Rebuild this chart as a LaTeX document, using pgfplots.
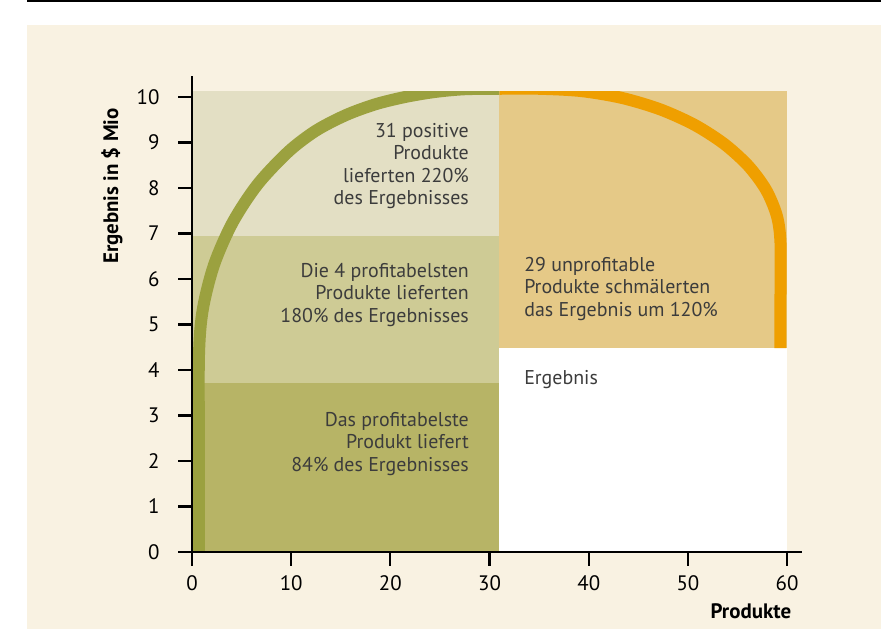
\documentclass[border=0pt]{standalone}
\usepackage{pgfplots}
\pgfplotsset{compat=1.18}
\usepackage{fontspec}
\setmainfont{PT Sans}
\definecolor{bg}{HTML}{F9F2E2}
\definecolor{cTop}{HTML}{E3DFC4}
\definecolor{cMid}{HTML}{CECB95}
\definecolor{cLow}{HTML}{B7B466}
\definecolor{cOrArea}{HTML}{E5C987}
\definecolor{cGreen}{HTML}{9BA13F}
\definecolor{cOrange}{HTML}{EF9F00}
\definecolor{txt}{HTML}{3C3C3C}
\begin{document}
\begin{tikzpicture}[x=1bp,y=1bp]
\path[use as bounding box] (0,0) rectangle (893,629);
\fill[bg] (27,0) rectangle (881,604);
\draw[black, line width=1.7bp] (27,628) -- (881,628);
\begin{axis}[
  at={(192bp,77bp)}, anchor=south west,
  scale only axis, width=610bp, height=475.5bp,
  xmin=0, xmax=61.5, ymin=0, ymax=10.45,
  axis x line*=bottom, axis y line*=left,
  axis line style={-, line width=2.2bp, black},
  xtick={0,10,...,60}, ytick={0,1,...,10},
  tick align=outside, major tick length=14bp,
  tick style={line width=2.2bp, black},
  /pgf/number format/assume math mode=true,
  tick label style={font=\fontsize{21}{24}\selectfont, text=black},
  yticklabel style={xshift=-15bp},
  xticklabel style={yshift=-6bp},
  axis on top, clip=false,
  xlabel={Produkte},
  xlabel style={at={(axis description cs:0.988,-0.124)}, anchor=east, font=\fontsize{21}{24}\selectfont\bfseries},
  ylabel={Ergebnis in \$ Mio},
  ylabel style={at={(axis description cs:-0.131,0.7695)}, anchor=center, font=\fontsize{21}{24}\selectfont\bfseries},
]
% regions
\addplot[fill=cLow, draw=none] coordinates {(0,0) (31,0) (31,3.72) (0,3.72)} -- cycle;
\addplot[fill=cMid, draw=none] coordinates {(0,3.72) (31,3.72) (31,6.95) (0,6.95)} -- cycle;
\addplot[fill=cTop, draw=none] coordinates {(0,6.95) (31,6.95) (31,10.135) (0,10.135)} -- cycle;
\addplot[fill=cOrArea, draw=none] coordinates {(31,4.48) (60,4.48) (60,10.135) (31,10.135)} -- cycle;
\addplot[fill=white, draw=none] coordinates {(31,0) (60,0) (60,4.48) (31,4.48)} -- cycle;
% curves
\addplot[cGreen, line width=12bp, smooth, tension=0.5, line cap=butt] coordinates {
 (0.7,0) (0.7,2.2) (0.7,4.3) (1.08,5.32) (2.22,6.31) (4.09,7.24) (6.62,8.08)
 (9.73,8.80) (12.5,9.26) (15.5,9.60) (18.5,9.84) (21.5,10.00) (24.5,10.11) (27.5,10.17) (31,10.18)};
\addplot[cOrange, line width=12bp, smooth, tension=0.5, line cap=butt] coordinates {
 (31,10.18) (35,10.18) (39.23,10.13) (43.32,9.98) (47.17,9.73) (50.64,9.39)
 (53.64,8.97) (56.07,8.49) (57.87,7.96) (58.96,7.39) (59.33,6.80) (59.33,5.6) (59.33,4.48)};
% mask above the top of the regions
\addplot[fill=bg, draw=none] coordinates {(0,10.135) (61,10.135) (61,10.5) (0,10.5)} -- cycle;
% annotations
\node[anchor=east, align=right, inner sep=0pt, text=txt, font=\fontsize{20}{22.5}\selectfont]
  at (axis cs:27.93,8.48) {31 positive\\Produkte\\lieferten 220\%\\des Ergebnisses};
\node[anchor=east, align=right, inner sep=0pt, text=txt, font=\fontsize{20}{22.5}\selectfont]
  at (axis cs:27.93,5.648) {Die 4 profitabelsten\\Produkte lieferten\\180\% des Ergebnisses};
\node[anchor=east, align=right, inner sep=0pt, text=txt, font=\fontsize{20}{22.5}\selectfont]
  at (axis cs:27.93,2.374) {Das profitabelste\\Produkt liefert\\84\% des Ergebnisses};
\node[anchor=west, align=left, inner sep=0pt, text=txt, font=\fontsize{20}{22.5}\selectfont]
  at (axis cs:33.48,5.78) {29 unprofitable\\Produkte schmälerten\\das Ergebnis um 120\%};
\node[anchor=west, align=left, inner sep=0pt, text=txt, font=\fontsize{20}{22.5}\selectfont]
  at (axis cs:33.48,3.80) {Ergebnis};
\end{axis}
\end{tikzpicture}
\end{document}
